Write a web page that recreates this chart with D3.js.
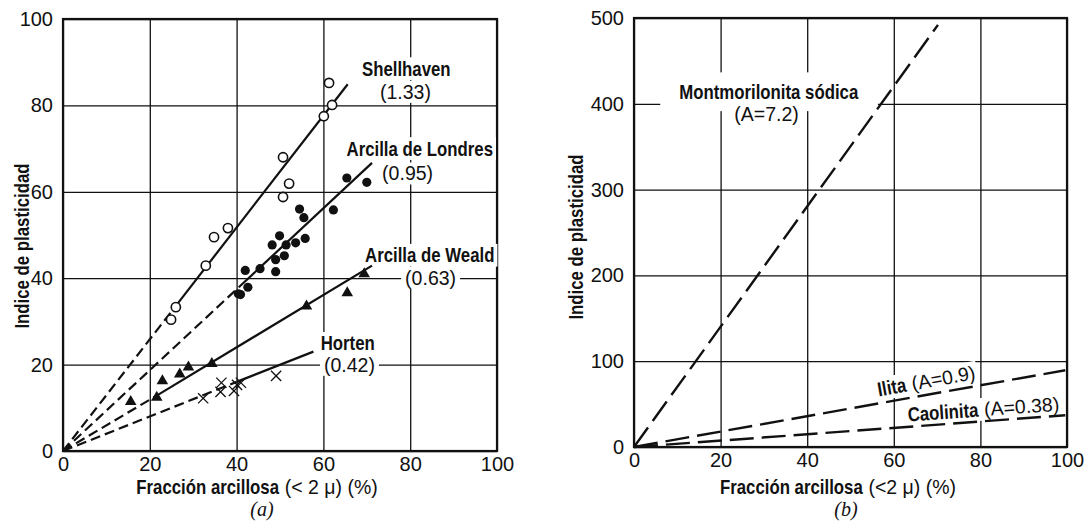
<!DOCTYPE html>
<meta charset="utf-8">
<head>
<script src="https://cdn.jsdelivr.net/npm/d3@7"></script>
<style>
	body { margin: 0; background: #fff; }
	.tick text { font-family: "Liberation Sans", Arial, sans-serif; font-size: 20px; fill: #111; }
	.bold { font-family: "Liberation Sans", Arial, sans-serif; font-weight: bold; font-size: 20px; fill: #111; }
	.num { font-family: "Liberation Sans", Arial, sans-serif; font-size: 19.5px; fill: #111; }
	.cap { font-family: "Liberation Serif", serif; font-style: italic; font-size: 20px; fill: #111; }
</style>
</head>
<body>
<svg id="svg"></svg>
</body>
<script>
var xTicks = [0, 20, 40, 60, 80, 100];
var yTicksA = [0, 20, 40, 60, 80, 100];
var yTicksB = [0, 100, 200, 300, 400, 500];

// (a) puntos
var shellhaven = [[24.9, 30.4], [26.0, 33.3], [32.9, 42.9], [34.8, 49.5], [38.0, 51.6], [50.7, 68.0],
	[50.7, 58.8], [52.1, 61.9], [60.1, 77.5], [62.0, 80.1], [61.3, 85.2]];
var londres = [[40.4, 36.4], [40.9, 36.2], [42.0, 41.8], [42.6, 37.9], [45.4, 42.2], [48.2, 47.7],
	[49.0, 41.5], [49.0, 44.3], [49.9, 49.8], [51.0, 45.2], [51.4, 47.7], [53.6, 48.2], [54.5, 56.0],
	[55.5, 54.0], [55.8, 49.2], [62.3, 55.8], [65.4, 63.2], [70.0, 62.2]];
var weald = [[15.6, 11.4], [21.6, 12.4], [22.9, 16.2], [26.9, 17.8], [28.9, 19.4], [34.3, 20.2],
	[56.1, 33.5], [65.5, 36.6], [69.4, 41.0]];
var horten = [[32.3, 12.2], [36.3, 13.7], [36.5, 15.8], [39.4, 13.9], [40.1, 15.3], [41.0, 15.8], [49.1, 17.4]];

// rectas (a): origen -> comienzo del tramo continuo -> final
var namesA = ["Shellhaven", "Arcilla de Londres", "Arcilla de Weald", "Horten"];
var activA = ["(1.33)", "(0.95)", "(0.63)", "(0.42)"];
var linesA = [
	[[0, 0], [26.0, 33.6], [65.6, 84.9]],
	[[0, 0], [40.5, 37.9], [71.2, 66.7]],
	[[0, 0], [21.2, 12.6], [71.2, 42.9]],
	[[0, 0], [40.0, 16.0], [57.7, 23.0]]
];

// rectas (b)
var namesB = ["Montmorilonita sódica", "Ilita", "Caolinita"];
var activB = ["(A=7.2)", "(A=0.9)", "(A=0.38)"];
var linesB = [
	[[0, 0], [70.2, 492]],
	[[0, 0], [99.6, 89.5]],
	[[0, 0], [99.6, 37.0]]
];

var svg = d3.select("#svg").attr("width", 1085).attr("height", 521);

var xA = d3.scaleLinear().domain([0, 100]).range([63, 497]);
var yA = d3.scaleLinear().domain([0, 100]).range([451, 19]);
var xB = d3.scaleLinear().domain([0, 100]).range([634, 1067]);
var yB = d3.scaleLinear().domain([0, 500]).range([447, 18]);

var COND = 0.84; // letra estrecha

function panel(x, y, yTicks) {
	var g = svg.append("g");
	var x0 = x.range()[0], x1 = x.range()[1], y0 = y.range()[0], y1 = y.range()[1];
	// rejilla
	g.append("g").attr("transform", "translate(0," + y0 + ")")
		.call(d3.axisBottom(x).tickValues(xTicks).tickSize(-(y0 - y1)).tickFormat(""))
		.call(s => s.select(".domain").remove())
		.selectAll("line").attr("stroke", "#111").attr("stroke-width", 1.3);
	g.append("g").attr("transform", "translate(" + x0 + ",0)")
		.call(d3.axisLeft(y).tickValues(yTicks).tickSize(-(x1 - x0)).tickFormat(""))
		.call(s => s.select(".domain").remove())
		.selectAll("line").attr("stroke", "#111").attr("stroke-width", 1.3);
	// etiquetas
	g.append("g").attr("transform", "translate(0," + y0 + ")")
		.call(d3.axisBottom(x).tickValues(xTicks).tickSize(0).tickPadding(6))
		.call(s => s.select(".domain").remove());
	g.append("g").attr("transform", "translate(" + x0 + ",0)")
		.call(d3.axisLeft(y).tickValues(yTicks).tickSize(0).tickPadding(10))
		.call(s => s.select(".domain").remove());
	g.append("rect").attr("x", x0).attr("y", y1).attr("width", x1 - x0).attr("height", y0 - y1)
		.attr("fill", "none").attr("stroke", "#111").attr("stroke-width", 2.2);
	return g;
}

var gA = panel(xA, yA, yTicksA);
var gB = panel(xB, yB, yTicksB);

// texto (partes en negrita estrecha o normal), centrado, con fondo blanco opcional
function label(g, cx, cy, parts, padX, padY, rot, bg) {
	var t = g.append("g").attr("transform", "translate(" + cx + "," + cy + ") rotate(" + (rot || 0) + ")");
	var rect = t.append("rect").attr("fill", bg === false ? "none" : "#fff");
	var inner = t.append("g");
	var x = 0;
	parts.forEach(function (p, i) {
		var k = p[1] == "bold" ? COND : 1;
		if (i > 0) x += 5;
		var el = inner.append("text").attr("class", p[1]).attr("dy", "0.35em")
			.attr("transform", "translate(" + x + ",0) scale(" + k + ",1)").text(p[0]);
		x += el.node().getBBox().width * k;
	});
	inner.attr("transform", "translate(" + (-x / 2) + ",0)");
	var b = inner.node().getBBox();
	rect.attr("x", b.x - x / 2 - padX).attr("y", b.y - padY)
		.attr("width", b.width + 2 * padX).attr("height", b.height + 2 * padY);
	return t;
}

var layerBgA = gA.append("g");
var layerBgB = gB.append("g");

// posiciones de los rotulos (a), en unidades de datos
var labPosA = [[79.1, 88.5, 78.9, 83.1], [82.2, 70.0, 79.4, 64.2], [84.5, 45.3, 84.7, 40.0], [65.6, 24.9, 66.0, 19.9]];
namesA.forEach(function (n, i) {
	var p = labPosA[i];
	label(layerBgA, xA(p[0]), yA(p[1]), [[n, "bold"]], 3, 0, 0);
	label(layerBgA, xA(p[2]), yA(p[3]), [[activA[i], "num"]], 4, 0, 0);
});

// rectas (a)
var line = d3.line();
linesA.forEach(function (l) {
	var px = l.map(d => [xA(d[0]), yA(d[1])]);
	gA.append("path").attr("d", line([px[0], px[1]])).attr("fill", "none")
		.attr("stroke", "#111").attr("stroke-width", 2.2).attr("stroke-dasharray", "10,5");
	gA.append("path").attr("d", line([px[1], px[2]])).attr("fill", "none")
		.attr("stroke", "#111").attr("stroke-width", 2.2);
});

// puntos (a)
gA.selectAll("circle.sh").data(shellhaven).enter().append("circle")
	.attr("cx", d => xA(d[0])).attr("cy", d => yA(d[1])).attr("r", 4.6)
	.attr("fill", "#fff").attr("stroke", "#111").attr("stroke-width", 1.6);
gA.selectAll("circle.lo").data(londres).enter().append("circle")
	.attr("cx", d => xA(d[0])).attr("cy", d => yA(d[1])).attr("r", 4.6).attr("fill", "#111");
gA.selectAll("path.we").data(weald).enter().append("path")
	.attr("transform", d => "translate(" + xA(d[0]) + "," + yA(d[1]) + ")")
	.attr("d", d3.symbol().type(d3.symbolTriangle).size(58)).attr("fill", "#111");
gA.selectAll("path.ho").data(horten).enter().append("path")
	.attr("transform", d => "translate(" + xA(d[0]) + "," + yA(d[1]) + ")")
	.attr("d", d3.symbol().type(d3.symbolTimes).size(70))
	.attr("fill", "none").attr("stroke", "#111").attr("stroke-width", 1.3);

// rotulos (b)
label(layerBgB, xB(31.2), yB(414), [[namesB[0], "bold"]], 19, 8, 0);
label(layerBgB, xB(30.6), yB(388), [[activB[0], "num"]], 3, 1, 0);
label(layerBgB, xB(67.5), yB(77), [[namesB[1], "bold"], [activB[1], "num"]], 2, 0, -10);
label(layerBgB, xB(80.7), yB(44), [[namesB[2], "bold"], [activB[2], "num"]], 2, 0, -4);

linesB.forEach(function (l) {
	gB.append("path").attr("d", line(l.map(d => [xB(d[0]), yB(d[1])]))).attr("fill", "none")
		.attr("stroke", "#111").attr("stroke-width", 2.4).attr("stroke-dasharray", "24,8");
});

// titulos de ejes
function titles(cx, tx, ty, cap, capX, xt) {
	label(svg, cx, 487, [["Fracción arcillosa", "bold"], [xt, "num"]], 0, 0, 0, false);
	label(svg, tx, ty, [["Indice de plasticidad", "bold"]], 0, 0, -90, false);
	svg.append("text").attr("class", "cap").attr("x", capX).attr("y", 516).attr("text-anchor", "middle").text(cap);
}
titles(257, 22, 246, "(a)", 262, "(< 2 μ) (%)");
titles(838, 576, 237, "(b)", 846, "(<2 μ) (%)");
</script>
